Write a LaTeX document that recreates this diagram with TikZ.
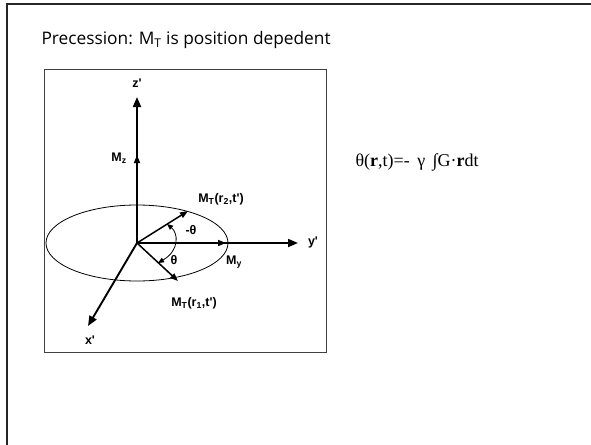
\documentclass[tikz,border=0pt]{standalone}
\usepackage{fontspec}
\setmainfont{Liberation Serif}
\newfontfamily\labelfont{Liberation Sans}
\newfontfamily\titlefont{Open Sans}
\usetikzlibrary{arrows.meta, positioning}

\tikzset{
  axis/.style={line width=1.9pt, -{Triangle[length=10pt, width=8pt]}},
  vec/.style={line width=1.5pt, -{Triangle[length=8pt, width=6pt]}},
  lbl/.style={font=\labelfont\bfseries\fontsize{12.5}{15}\selectfont, inner sep=1pt},
}

\begin{document}
\begin{tikzpicture}[x=1pt, y=-1pt]
  \useasboundingbox (0,0) rectangle (591,444);
  \clip (0,0) rectangle (591,444);
  % Slide frame
  \draw[line width=2.6pt, black!85] (7,460) -- (7,4) -- (610,4);
  % Title
  \node[font=\titlefont\fontsize{17.3}{19}\selectfont, anchor=base west] (title) at (38,45)
    {Precession: M\textsubscript{T} is position depedent};
  % Inner box
  \draw[black!75, line width=0.9pt] (44,69) rectangle (326,352);
  % Points
  \coordinate (O) at (137,243);
  \coordinate (ztip) at (137,97);
  \coordinate (ytip) at (298,243);
  \coordinate (xtip) at (88,326);
  \coordinate (mz) at (137,155);
  \coordinate (my) at (226,243);
  \coordinate (mt2) at (188,211);
  \coordinate (mt1) at (178,281);
  % Precession circle
  \draw[line width=0.8pt] (O) ellipse [x radius=91, y radius=38];
  % Axes
  \draw[axis] (O) -- (ztip);
  \draw[axis] (O) -- (ytip);
  \draw[axis] (O) -- (xtip);
  % Magnetisation vectors
  \draw[vec] (O) -- (mz);
  \draw[vec] (O) -- (my);
  \draw[vec] (O) -- (mt2);
  \draw[vec] (O) -- (mt1);
  % Phase angle
  \draw[line width=0.8pt, {Triangle[length=6pt, width=5pt]}-{Triangle[length=6pt, width=5pt]}]
    (167,224) .. controls (178,233) and (180,250) .. (158,263);
  % Labels
  \node[lbl] (zl) at (137,83) {z'};
  \node[lbl] (yl) at (313,242) {y'};
  \node[lbl] (xl) at (90,340) {x'};
  \node[lbl] (mzl) at (119,158) {M\textsubscript{z}};
  \node[lbl] (myl) at (234,262) {M\textsubscript{y}};
  \node[lbl] (mt2l) at (221,199) {M\textsubscript{T}(r\textsubscript{2},t')};
  \node[lbl] (mt1l) at (194,303) {M\textsubscript{T}(r\textsubscript{1},t')};
  \node[lbl] (th2) at (191,230) {-θ};
  \node[lbl] (th1) at (174,260) {θ};
  % Phase formula
  \node[font=\fontsize{18}{20}\selectfont, anchor=base west] (phase) at (352,166)
    {θ(\textbf{r},t)=-\, γ\, ∫G·\textbf{r}dt};
\end{tikzpicture}
\end{document}
